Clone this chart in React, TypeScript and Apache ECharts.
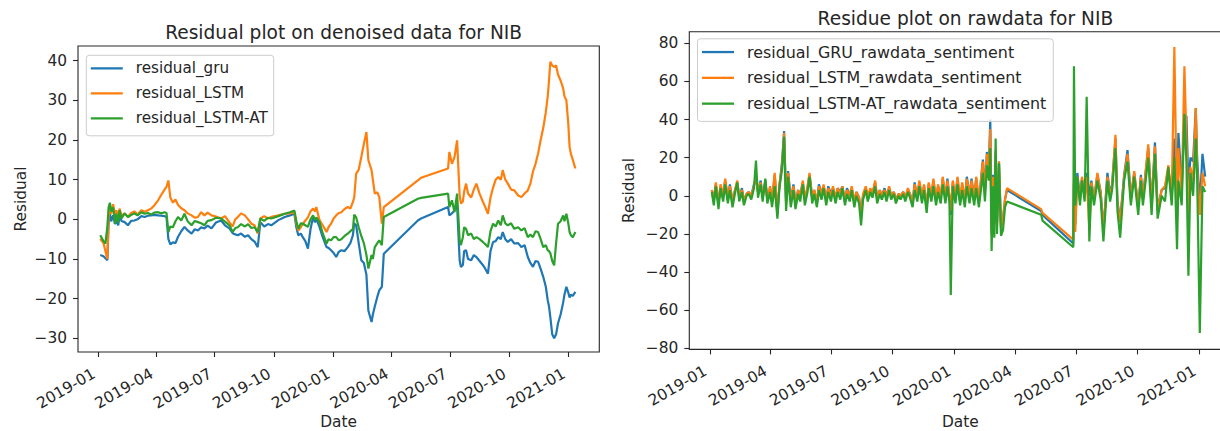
import React, { useEffect, useRef } from "react";
import * as echarts from "echarts";

// matplotlib default cycle
const COLORS = ["#1f77b4", "#ff7f0e", "#2ca02c"];
const FONT = "DejaVu Sans";

// ---- left panel: residuals on denoised data ----
const denoisedNames = ["residual_gru", "residual_LSTM", "residual_LSTM-AT"];
const denoisedDates = [
  "2019-01-04", "2019-01-09", "2019-01-12", "2019-01-15", "2019-01-17", "2019-01-19", "2019-01-21", "2019-01-24",
  "2019-01-27", "2019-01-29", "2019-02-01", "2019-02-03", "2019-02-06", "2019-02-11", "2019-02-16", "2019-02-21",
  "2019-02-26", "2019-03-03", "2019-03-09", "2019-03-14", "2019-03-19", "2019-03-24", "2019-03-29", "2019-04-04",
  "2019-04-09", "2019-04-14", "2019-04-17", "2019-04-20", "2019-04-23", "2019-04-27", "2019-05-01", "2019-05-05",
  "2019-05-10", "2019-05-15", "2019-05-20", "2019-05-26", "2019-05-31", "2019-06-05", "2019-06-10", "2019-06-15",
  "2019-06-20", "2019-06-26", "2019-07-03", "2019-07-11", "2019-07-17", "2019-07-24", "2019-07-29", "2019-08-02",
  "2019-08-06", "2019-08-11", "2019-08-17", "2019-08-22", "2019-08-27", "2019-09-01", "2019-09-06", "2019-09-10",
  "2019-09-16", "2019-09-22", "2019-09-27", "2019-10-08", "2019-10-18", "2019-10-26", "2019-11-02", "2019-11-05",
  "2019-11-08", "2019-11-12", "2019-11-15", "2019-11-19", "2019-11-23", "2019-11-27", "2019-12-01", "2019-12-04",
  "2019-12-06", "2019-12-11", "2019-12-16", "2019-12-22", "2019-12-25", "2019-12-29", "2020-01-02", "2020-01-06",
  "2020-01-10", "2020-01-14", "2020-01-19", "2020-01-24", "2020-01-28", "2020-02-01", "2020-02-03", "2020-02-06",
  "2020-02-10", "2020-02-14", "2020-02-18", "2020-02-22", "2020-02-25", "2020-03-01", "2020-03-03", "2020-03-06",
  "2020-03-10", "2020-03-13", "2020-03-17", "2020-03-20", "2020-05-12", "2020-05-17", "2020-06-28", "2020-06-30",
  "2020-07-04", "2020-07-08", "2020-07-12", "2020-07-16", "2020-07-18", "2020-07-21", "2020-07-23", "2020-07-26",
  "2020-07-29", "2020-08-03", "2020-08-07", "2020-08-11", "2020-08-16", "2020-08-21", "2020-08-25", "2020-08-29",
  "2020-09-02", "2020-09-06", "2020-09-10", "2020-09-14", "2020-09-18", "2020-09-21", "2020-09-25", "2020-09-29",
  "2020-10-04", "2020-10-09", "2020-10-15", "2020-10-20", "2020-10-25", "2020-10-30", "2020-11-03", "2020-11-07",
  "2020-11-11", "2020-11-15", "2020-11-19", "2020-11-23", "2020-11-27", "2020-11-30", "2020-12-02", "2020-12-04",
  "2020-12-07", "2020-12-10", "2020-12-13", "2020-12-16", "2020-12-20", "2020-12-24", "2020-12-26", "2020-12-29",
  "2021-01-01", "2021-01-03", "2021-01-05", "2021-01-08", "2021-01-12",
];
const residualGru = [
  -9.0, -9.3, -9.8, -10.3, -1.0, 1.5, -0.5, 1.0,
  -1.2, -0.2, -1.5, 1.0, -0.4, -0.7, -1.5, -0.4,
  -0.3, 0.0, 0.8, 0.6, 0.9, 1.0, 1.1, 1.0,
  0.9, 0.8, 0.6, -5.0, -6.3, -5.8, -6.0, -4.4,
  -3.0, -1.9, -2.8, -3.6, -2.5, -2.8, -2.0, -2.3,
  -1.6, -2.3, -0.8, -0.3, -1.5, -2.3, -3.5, -3.8,
  -4.0, -3.6, -4.4, -4.0, -5.0, -5.6, -7.0, -0.7,
  -1.8, -1.2, -1.5, -0.2, 0.6, 1.0, 1.4, -2.0,
  -4.0, -3.6, -4.5, -5.5, -7.4, -2.5, 0.6, -0.8,
  0.2, -1.9, -4.5, -7.0, -7.2, -7.8, -8.5, -9.5,
  -8.2, -7.8, -8.0, -7.0, -6.0, -4.0, -1.0, -1.5,
  -6.0, -10.3, -11.0, -14.0, -23.0, -25.9, -24.0, -22.0,
  -19.5, -17.9, -17.0, -8.7, -0.3, 0.2, 3.1, 1.0,
  1.5, 2.3, 3.5, -10.3, -12.0, -11.5, -8.0, -7.8,
  -10.0, -10.3, -9.0, -9.5, -10.5, -11.5, -12.5, -13.7,
  -8.0, -5.7, -5.5, -4.5, -5.0, -3.2, -5.0, -5.7,
  -5.0, -6.1, -6.0, -7.0, -6.5, -9.5, -11.0, -12.0,
  -10.5, -10.7, -12.5, -14.5, -17.0, -20.4, -22.0, -24.6,
  -29.0, -30.0, -29.0, -26.2, -24.0, -21.0, -19.0, -17.0,
  -18.5, -19.7, -19.0, -19.3, -18.3,
];
const residualLstm = [
  -4.9, -6.0, -8.0, -10.0, 0.5, 3.5, 1.4, 3.8,
  1.0, 2.3, 0.6, 2.7, 1.0, 1.5, 0.6, 1.6,
  2.0, 1.2, 2.3, 1.9, 2.3, 2.7, 3.5, 4.8,
  6.2, 7.5, 8.2, 9.8, 5.5, 4.2, 5.0, 3.6,
  2.8, 2.3, 1.5, 1.0, 0.4, 0.6, 1.8, 1.0,
  1.7, 1.0, 0.7, 0.2, 0.8, -0.8, -1.8, 0.0,
  0.6, 1.5, 1.0, 0.0, -1.1, -1.5, -3.6, 0.2,
  0.8, 0.2, 0.6, 1.0, 1.4, 1.5, 1.8, -1.0,
  -2.8, -2.0, -1.2, -0.3, 0.5, 2.0, 2.7, 2.0,
  3.1, -0.2, -1.5, -3.2, -2.0, -1.1, 0.2, 1.0,
  1.6, 1.8, 2.6, 3.1, 2.7, 4.4, 5.5, 11.5,
  12.5, 15.7, 19.0, 22.0, 14.9, 12.4, 10.0, 6.5,
  6.8, 5.6, -1.1, 3.1, 9.8, 10.5, 12.8, 17.0,
  14.0, 15.7, 19.9, 6.0, 4.0, 4.5, 7.0, 9.0,
  6.5, 5.5, 7.5, 9.0, 6.5, 4.5, 3.0, 1.4,
  5.5, 8.0, 10.0, 10.7, 10.0, 12.4, 10.0, 9.0,
  7.5, 7.3, 6.0, 5.6, 6.5, 7.3, 9.0, 12.0,
  14.0, 16.6, 20.0, 23.0, 27.0, 31.0, 35.0, 39.7,
  38.8, 38.4, 38.8, 36.5, 35.0, 33.0, 31.0, 30.0,
  24.0, 18.2, 16.5, 15.0, 12.8,
];
const residualLstmAt = [
  -4.0, -5.5, -6.1, -2.0, 3.0, 4.2, 2.0, 3.0,
  -1.1, 1.4, -0.8, 2.3, 0.2, 1.5, 0.6, 1.1,
  1.5, 1.0, 1.8, 1.4, 1.6, 1.2, 1.7, 1.8,
  1.5, 1.8, 1.6, -3.2, -1.8, -2.0, -0.5, 0.6,
  -0.3, 1.4, -0.5, -1.5, -0.4, -0.7, -1.0, -1.5,
  -0.4, -0.2, 0.4, 0.2, -0.6, -1.5, -3.2, -2.2,
  -2.0, -1.2, -1.8, -1.2, -2.2, -2.0, -3.2, 0.2,
  -0.4, 0.4, 0.2, 0.8, 1.4, 1.8, 2.2, -0.5,
  -2.4, -1.0, -1.1, -1.5, -1.9, 0.0, 1.0, -0.2,
  0.5, -0.7, -3.5, -6.1, -5.0, -5.3, -4.5, -4.5,
  -5.3, -5.0, -4.2, -3.6, -3.0, -2.5, 1.2, 0.5,
  -2.0, -4.2, -6.0, -9.0, -12.4, -9.0, -10.0, -7.0,
  -6.0, -5.3, -6.5, 0.6, 5.2, 5.4, 6.5, 3.1,
  4.8, 1.8, 6.5, -5.3, -6.5, -4.5, -2.0, -2.4,
  -4.0, -3.6, -5.0, -4.5, -5.0, -5.7, -6.3, -7.0,
  -3.0, -1.1, -1.8, -0.3, -1.5, 1.0, -1.0, -1.5,
  -1.0, -2.4, -2.0, -2.8, -2.2, -4.5, -3.8, -4.5,
  -3.0, -3.2, -5.0, -7.0, -6.5, -7.8, -8.0, -8.5,
  -10.5, -11.6, -6.0, -1.1, -0.5, 1.0, -0.5, 1.4,
  -1.0, -3.2, -4.0, -4.5, -3.2,
];

// ---- right panel: residues on raw data ----
const rawNames = [
  "residual_GRU_rawdata_sentiment",
  "residual_LSTM_rawdata_sentiment",
  "residual_LSTM-AT_rawdata_sentiment",
];
const rawDates = [
  "2019-01-04", "2019-01-07", "2019-01-10", "2019-01-14", "2019-01-17", "2019-01-21", "2019-01-24", "2019-01-28",
  "2019-01-31", "2019-02-04", "2019-02-07", "2019-02-11", "2019-02-14", "2019-02-18", "2019-02-21", "2019-02-25",
  "2019-02-28", "2019-03-04", "2019-03-08", "2019-03-11", "2019-03-14", "2019-03-18", "2019-03-21", "2019-03-25",
  "2019-03-28", "2019-04-01", "2019-04-04", "2019-04-08", "2019-04-12", "2019-04-15", "2019-04-19", "2019-04-22",
  "2019-04-25", "2019-04-28", "2019-05-02", "2019-05-06", "2019-05-09", "2019-05-13", "2019-05-16", "2019-05-20",
  "2019-05-23", "2019-05-27", "2019-05-30", "2019-06-03", "2019-06-06", "2019-06-10", "2019-06-13", "2019-06-17",
  "2019-06-20", "2019-06-24", "2019-06-27", "2019-07-01", "2019-07-04", "2019-07-08", "2019-07-11", "2019-07-15",
  "2019-07-18", "2019-07-22", "2019-07-25", "2019-07-29", "2019-08-01", "2019-08-05", "2019-08-08", "2019-08-12",
  "2019-08-15", "2019-08-18", "2019-08-22", "2019-08-25", "2019-08-29", "2019-09-01", "2019-09-05", "2019-09-08",
  "2019-09-12", "2019-09-15", "2019-09-19", "2019-09-22", "2019-09-26", "2019-09-29", "2019-10-03", "2019-10-06",
  "2019-10-10", "2019-10-13", "2019-10-17", "2019-10-20", "2019-10-24", "2019-10-27", "2019-10-31", "2019-11-03",
  "2019-11-07", "2019-11-10", "2019-11-14", "2019-11-17", "2019-11-21", "2019-11-24", "2019-11-28", "2019-12-01",
  "2019-12-05", "2019-12-08", "2019-12-12", "2019-12-15", "2019-12-19", "2019-12-22", "2019-12-25", "2019-12-27",
  "2019-12-30", "2020-01-03", "2020-01-06", "2020-01-10", "2020-01-13", "2020-01-17", "2020-01-20", "2020-01-24",
  "2020-01-27", "2020-01-31", "2020-02-03", "2020-02-07", "2020-02-10", "2020-02-13", "2020-02-16", "2020-02-19",
  "2020-02-22", "2020-02-24", "2020-02-26", "2020-02-28", "2020-03-01", "2020-03-03", "2020-03-05", "2020-03-08",
  "2020-03-11", "2020-03-14", "2020-03-17", "2020-03-20", "2020-05-10", "2020-05-12", "2020-06-27", "2020-06-28",
  "2020-06-30", "2020-07-03", "2020-07-07", "2020-07-10", "2020-07-14", "2020-07-17", "2020-07-21", "2020-07-24",
  "2020-07-28", "2020-08-02", "2020-08-07", "2020-08-11", "2020-08-17", "2020-08-21", "2020-08-24", "2020-08-29",
  "2020-09-01", "2020-09-05", "2020-09-11", "2020-09-16", "2020-09-21", "2020-09-26", "2020-10-02", "2020-10-06",
  "2020-10-09", "2020-10-17", "2020-10-22", "2020-10-27", "2020-10-31", "2020-11-06", "2020-11-11", "2020-11-16",
  "2020-11-21", "2020-11-25", "2020-11-29", "2020-12-01", "2020-12-06", "2020-12-10", "2020-12-13", "2020-12-16",
  "2020-12-19", "2020-12-23", "2020-12-27", "2020-12-29", "2021-01-02", "2021-01-06", "2021-01-10",
];
const residualGruRaw = [
  3, -2, 6, -4, 5, 1, 8, -2, 6, -3, 2, 7, -1, 4, -3, 1,
  2, 0, 6, 9, 2, 8, -1, 8, -2, 4, -3, 11, -9, 5, 18, 34,
  -3, 13, -2, 6, -4, 3, 0, 7, -2, 4, 11, -1, 3, -4, 6, 1,
  5, -2, 5, 1, 4, -1, 4, 2, 5, -3, 4, 0, 4, -3, 2, -1,
  -9, 0, 4, -1, 3, 1, 7, -1, 3, 0, 4, 0, 4, 0, 2, -2,
  1, 0, 2, -1, 3, 1, -4, 7, -1, 7, -1, 5, -6, 6, -1, 8,
  -2, 5, -1, 9, -1, 9, -1, -10, 7, -1, 9, -3, 6, -2, 10, 0,
  9, -1, 9, -3, 8, 19, 3, 23, 16, 40, -18, 11, -14, 22, -14, 18,
  -16, -12, -2, 3, -8, -10, -25, 6, -15, 12, -1, 9, 0, 12, 0, 8,
  -2, 11, 2, -18, 12, 1, 6, 30, -3, -13, 11, 24, -1, 12, -6, 11,
  -1, 25, -5, 28, -7, 3, 4, 14, -1, 30, -10, 33, 5, 40, 42, 5,
  20, 18, 46, 20, -5, 22, 10,
];
const residualLstmRaw = [
  3, -3, 7, -4, 6, 0, 9, -1, 5, -3, 2, 8, 0, 3, -2, 1,
  2, 0, 5, 10, 2, 7, 0, 7, -2, 5, -2, 12, -10, 6, 16, 33,
  -4, 12, -3, 5, -4, 3, 0, 8, -2, 5, 12, -1, 3, -3, 5, 1,
  6, -2, 4, 0, 5, -1, 4, 1, 5, -2, 3, 0, 5, -3, 2, -1,
  -10, 1, 5, 0, 4, 1, 8, -1, 3, 0, 3, 0, 5, 0, 2, -2,
  1, 0, 2, -1, 4, 1, -4, 6, 0, 8, -1, 6, -6, 7, 0, 9,
  -2, 6, -1, 10, -1, 8, 0, -8, 8, -1, 10, -2, 7, -2, 9, 0,
  8, -1, 10, -3, 8, 18, 2, 22, 14, 35, -20, 10, -15, 24, -15, 18,
  -17, -12, -2, 4, -7, -9, -23, 8, -19, 10, -2, 10, -1, 10, -18, 7,
  -2, 12, 1, -18, 10, 0, 5, 32, -4, -14, 10, 22, -2, 13, -6, 10,
  -2, 27, -6, 26, -8, 3, 5, 16, -2, 78, -12, 25, 0, 68, 30, -10,
  15, 8, 46, 15, -10, 12, 5,
];
const residualLstmAtRaw = [
  2, -5, 5, -7, 4, -3, 6, -4, 3, -6, 0, 7, -3, 2, -5, 0,
  1, -2, 4, 18.5, -1, 6, -3, 9, -4, 2, -6, 5, -12, 4, 14, 31,
  -8, 10, -6, 3, -7, 1, -3, 6, -5, 2, 10, -4, 1, -6, 3, -2,
  4, -5, 2, -3, 3, -4, 2, -2, 4, -5, 1, -3, 3, -6, 0, -4,
  -15.5, -2, 3, -3, 2, -1, 5, -4, 1, -2, 2, -3, 3, -2, 1, -4,
  0, -2, 1, -3, 2, -1, -6, 3, -3, 5, -4, 3, -9, 4, -3, 5,
  -5, 2, -4, 6, -4, 5, -3, -52, 5, -4, 6, -5, 3, -6, 5, -4,
  4, -5, 4, -6, 3, 12, -3, 16, 8, 25, -29, 5, -22, 30, -20, 17,
  -21, -18, -6, -3, -10, -13, -27, 68, -5, 10, -5, 8, -3, 52, -24, 5,
  -5, 8, -2, -24, 8, -3, 3, 25, -8, -22, 8, 18, -5, 10, -10, 8,
  -5, 20, -10, 22, -12, 0, -3, 15, -5, 20, -28, 8, -5, 43, 18, -42,
  12, 0, 30, 10, -72, 5, 2,
];

// quarterly date ticks
const quarterTicks = [
  "2019-01-01", "2019-04-01", "2019-07-01", "2019-10-01", "2020-01-01",
  "2020-04-01", "2020-07-01", "2020-10-01", "2021-01-01",
];
const denoisedTicks = [-30, -20, -10, 0, 10, 20, 30, 40];
const rawTicks = [-80, -60, -40, -20, 0, 20, 40, 60, 80];

const ts = (s: string) => {
  const [y, m, d] = s.split("-").map(Number);
  return new Date(y, m - 1, d).getTime();
};
const DAY = 86400000;

const pair = (dates: string[], vals: number[]) => dates.map((d, i) => [ts(d), vals[i]]);

const fmtMonth = (v: number) => {
  const d = new Date(v);
  return `${d.getFullYear()}-${String(d.getMonth() + 1).padStart(2, "0")}`;
};

const TEXT = "#262626";
const FRAME = "#262626";
const FS = 15.4;

function xAxisFor(gridIndex: number, min: number, max: number, nameGap: number) {
  const tickVals = quarterTicks.map(ts);
  return {
    type: "value",
    gridIndex,
    min,
    max,
    name: "Date",
    nameLocation: "middle",
    nameGap,
    nameMoveOverlap: false,
    nameTextStyle: { color: TEXT, fontFamily: FONT, fontSize: FS },
    axisLine: { show: false, onZero: false },
    axisTick: { show: true, length: 5, customValues: tickVals, lineStyle: { color: FRAME, width: 1.1 } },
    axisLabel: {
      customValues: tickVals,
      formatter: (v: number) => fmtMonth(v),
      rotate: 30,
      margin: 18,
      padding: [0, 5, 0, 0],
      color: TEXT,
      fontFamily: FONT,
      fontSize: FS,
    },
    splitLine: { show: false },
  };
}

function yAxisFor(gridIndex: number, min: number, max: number, ticks: number[], nameGap: number) {
  return {
    type: "value",
    gridIndex,
    min,
    max,
    name: "Residual",
    nameLocation: "middle",
    nameGap,
    nameRotate: 90,
    nameMoveOverlap: false,
    nameTextStyle: { color: TEXT, fontFamily: FONT, fontSize: FS },
    axisLine: { show: false, onZero: false },
    axisTick: { show: true, length: 5, customValues: ticks, lineStyle: { color: FRAME, width: 1.1 } },
    axisLabel: {
      customValues: ticks,
      formatter: (v: number) => (v < 0 ? "\u2212" + Math.abs(v) : String(v)),
      margin: 11,
      color: TEXT,
      fontFamily: FONT,
      fontSize: FS,
    },
    splitLine: { show: false },
  };
}

function legendFor(names: string[], left: number, top: number, fontSize: number, lineHeight: number, gap: number, padRight: number) {
  return {
    data: names,
    orient: "vertical",
    left,
    top,
    icon: "rect",
    itemWidth: 32,
    itemHeight: 2.3,
    itemGap: gap,
    padding: [4.5, padRight, 9, 4.5],
    backgroundColor: "rgba(255,255,255,0.8)",
    borderColor: "#cccccc",
    borderWidth: 1,
    borderRadius: 3,
    selectedMode: false,
    textStyle: {
      color: TEXT,
      fontFamily: FONT,
      fontSize,
      lineHeight,
      padding: [0, 0, 0, 8],
    },
  };
}

function lineSeries(name: string, data: any[], idx: number, color: string) {
  return {
    name,
    type: "line",
    xAxisIndex: idx,
    yAxisIndex: idx,
    data,
    showSymbol: false,
    symbol: "none",
    color,
    lineStyle: { color, width: 2.2 },
  };
}

export default function App() {
  const ref = useRef<HTMLDivElement>(null);

  useEffect(() => {
    if (!ref.current) return;
    const chart = echarts.init(ref.current, null, { renderer: "svg" });

    const leftMin = ts("2018-11-30") + 0.4 * DAY;
    const leftMax = ts("2021-02-18") + 0.2 * DAY;
    const rightMin = ts("2018-12-01") + 0.4 * DAY;
    const rightMax = ts("2021-02-18") + 0.2 * DAY;

    chart.setOption({
      animation: false,
      backgroundColor: "#ffffff",
      color: COLORS,
      title: [
        {
          text: "Residual plot on denoised data for NIB",
          left: 338.6,
          top: 18,
          textAlign: "center",
          textStyle: { color: TEXT, fontFamily: FONT, fontSize: 18.6, fontWeight: "normal" },
        },
        {
          text: "Residue plot on rawdata for NIB",
          left: 960.4,
          top: 3.5,
          textAlign: "center",
          textStyle: { color: TEXT, fontFamily: FONT, fontSize: 18.6, fontWeight: "normal" },
        },
      ],
      legend: [
        legendFor(denoisedNames, 86.3, 55.3, 15.2, 17, 8, 6),
        legendFor(rawNames, 697.5, 38.8, 15.9, 17.5, 8.3, 7),
      ],
      grid: [
        {
          left: 78, top: 46, width: 521.3, height: 306,
          outerBoundsMode: "none",
          show: true, borderColor: FRAME, borderWidth: 1.1, backgroundColor: "transparent",
        },
        {
          left: 689.3, top: 31.7, width: 542.1, height: 317.7,
          outerBoundsMode: "none",
          show: true, borderColor: FRAME, borderWidth: 1.1, backgroundColor: "transparent",
        },
      ],
      xAxis: [xAxisFor(0, leftMin, leftMax, 62), xAxisFor(1, rightMin, rightMax, 65)],
      yAxis: [
        yAxisFor(0, -33.45, 43.7, denoisedTicks, 50),
        yAxisFor(1, -80.6, 86.1, rawTicks, 53),
      ],
      series: [
        lineSeries(denoisedNames[0], pair(denoisedDates, residualGru), 0, COLORS[0]),
        lineSeries(denoisedNames[1], pair(denoisedDates, residualLstm), 0, COLORS[1]),
        lineSeries(denoisedNames[2], pair(denoisedDates, residualLstmAt), 0, COLORS[2]),
        lineSeries(rawNames[0], pair(rawDates, residualGruRaw), 1, COLORS[0]),
        lineSeries(rawNames[1], pair(rawDates, residualLstmRaw), 1, COLORS[1]),
        lineSeries(rawNames[2], pair(rawDates, residualLstmAtRaw), 1, COLORS[2]),
      ],
    });

    return () => chart.dispose();
  }, []);

  return (
    <div
      style={{
        position: "absolute",
        left: 0,
        top: 0,
        width: 1220,
        height: 431,
        overflow: "hidden",
        background: "#ffffff",
      }}
    >
      <div ref={ref} style={{ width: 1240, height: 431 }} />
    </div>
  );
}
